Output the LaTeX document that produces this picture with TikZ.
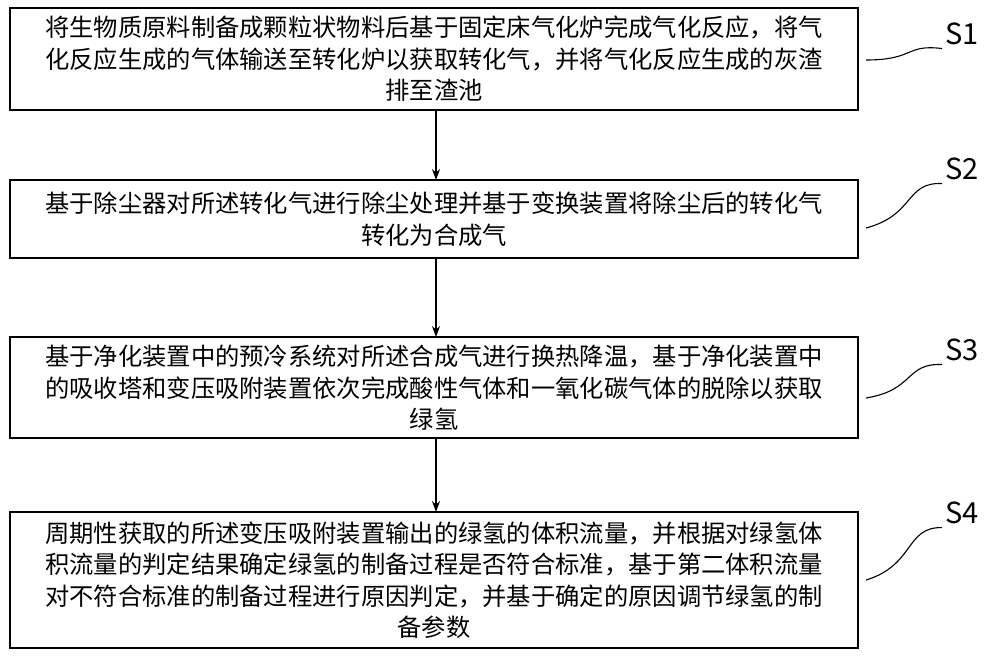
\documentclass[tikz,border=0pt]{standalone}
\usepackage{fontspec}
\setmainfont{Noto Sans CJK SC}
\usetikzlibrary{arrows.meta}
\begin{document}
\begin{tikzpicture}[x=1pt,y=-1pt,
  box/.style={draw,line width=1.3pt,align=center,font=\fontsize{24.3}{31.5}\selectfont,inner sep=0pt},
  arr/.style={-{Stealth[length=11pt,width=8pt]},line width=1.2pt},
  lead/.style={line width=1.1pt},
  lab/.style={font=\fontsize{29}{32}\selectfont,anchor=west}]
\useasboundingbox (0,0) rectangle (1000,659);
\draw[line width=1.3pt] (10,8) rectangle (858,110);
\node[box,draw=none] (b1) at (434,59) {将生物质原料制备成颗粒状物料后基于固定床气化炉完成气化反应，将气\\化反应生成的气体输送至转化炉以获取转化气，并将气化反应生成的灰渣\\排至渣池};
\draw[line width=1.3pt] (10,180) rectangle (858,258);
\node[box,draw=none] (b2) at (434,219) {基于除尘器对所述转化气进行除尘处理并基于变换装置将除尘后的转化气\\转化为合成气};
\draw[line width=1.3pt] (10,337) rectangle (858,438);
\node[box,draw=none] (b3) at (434,388) {基于净化装置中的预冷系统对所述合成气进行换热降温，基于净化装置中\\的吸收塔和变压吸附装置依次完成酸性气体和一氧化碳气体的脱除以获取\\绿氢};
\draw[line width=1.3pt] (10,512) rectangle (858,648);
\node[box,draw=none] (b4) at (434,580) {周期性获取的所述变压吸附装置输出的绿氢的体积流量，并根据对绿氢体\\积流量的判定结果确定绿氢的制备过程是否符合标准，基于第二体积流量\\对不符合标准的制备过程进行原因判定，并基于确定的原因调节绿氢的制\\备参数};
\coordinate (t1) at (436,110); \coordinate (h2) at (436,180);
\coordinate (t2) at (436,258); \coordinate (h3) at (436,337);
\coordinate (t3) at (436,438); \coordinate (h4) at (436,512);
\draw[arr] (t1) -- (h2);
\draw[arr] (t2) -- (h3);
\draw[arr] (t3) -- (h4);
\node[lab] (s1) at (942,34) {S1};
\node[lab] (s2) at (942,169) {S2};
\node[lab] (s3) at (942,350) {S3};
\node[lab] (s4) at (942,513) {S4};
\coordinate (e1) at (866,60); \coordinate (e2) at (866,228);
\coordinate (e3) at (866,398); \coordinate (e4) at (866,580);
\draw[lead] (e1) .. controls (915,60) and (905,44) .. (s1.south west);
\draw[lead] (e2) .. controls (915,215) and (905,182) .. (s2.south west);
\draw[lead] (e3) .. controls (915,390) and (905,363) .. (s3.south west);
\draw[lead] (e4) .. controls (915,565) and (905,527) .. (s4.south west);
\end{tikzpicture}
\end{document}
